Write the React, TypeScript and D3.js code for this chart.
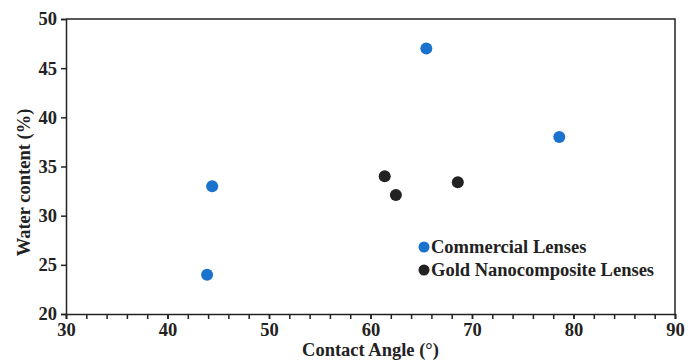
import React, { useEffect, useRef } from "react";
import * as d3 from "d3";

// Commercial lenses: contact angle (°) vs water content (%)
const commercialAngle = [43.9, 44.4, 65.5, 78.6];
const commercialWater = [24.0, 33.0, 47.0, 38.0];

// Gold nanocomposite lenses
const goldAngle = [61.4, 62.5, 68.6];
const goldWater = [34.0, 32.1, 33.4];

const xTicks = [30, 40, 50, 60, 70, 80, 90];
const yTicks = [20, 25, 30, 35, 40, 45, 50];

const seriesNames = ["Commercial Lenses", "Gold Nanocomposite Lenses"];
const seriesColors = ["#1a72cc", "#222222"];

const App = () => {
  const ref = useRef<SVGSVGElement>(null);

  useEffect(() => {
    const svg = d3.select(ref.current);
    svg.selectAll("*").remove();

    const margin = { top: 19, right: 24, bottom: 48, left: 66 };
    const width = 699 - margin.left - margin.right;
    const height = 362 - margin.top - margin.bottom;
    const font = "'Liberation Serif', 'Times New Roman', serif";
    const fs = 18.5;

    const g = svg
      .append("g")
      .attr("transform", `translate(${margin.left},${margin.top})`);

    const x = d3.scaleLinear().domain([30, 90]).range([0, width]);
    const y = d3.scaleLinear().domain([20, 50]).range([height, 0]);

    // frame (top and right)
    g.append("path")
      .attr("d", `M0,0H${width}V${height}`)
      .attr("fill", "none")
      .attr("stroke", "#222")
      .attr("stroke-width", 1.5);

    // minor x ticks
    g.append("g")
      .attr("transform", `translate(0,${height})`)
      .call(d3.axisBottom(x).tickValues(d3.range(30, 91, 2)).tickSize(5).tickFormat(() => ""))
      .call((a) => a.select(".domain").remove())
      .selectAll("line")
      .attr("stroke", "#222")
      .attr("stroke-width", 1.5);

    // X axis
    const xAxis = g
      .append("g")
      .attr("transform", `translate(0,${height})`)
      .call(d3.axisBottom(x).tickValues(xTicks).tickSize(5).tickPadding(4));
    xAxis.select(".domain").attr("stroke", "#222").attr("stroke-width", 1.5);
    xAxis.selectAll("line").attr("stroke", "#222").attr("stroke-width", 1.5);
    xAxis
      .selectAll("text")
      .attr("font-family", font)
      .attr("font-weight", "bold")
      .attr("font-size", fs)
      .attr("fill", "#222");

    // Y axis
    const yAxis = g
      .append("g")
      .call(d3.axisLeft(y).tickValues(yTicks).tickSize(5).tickPadding(4));
    yAxis.select(".domain").attr("stroke", "#222").attr("stroke-width", 1.5);
    yAxis.selectAll("line").attr("stroke", "#222").attr("stroke-width", 1.5);
    yAxis
      .selectAll("text")
      .attr("font-family", font)
      .attr("font-weight", "bold")
      .attr("font-size", fs)
      .attr("fill", "#222");

    // axis titles
    g.append("text")
      .attr("x", width / 2)
      .attr("y", height + 42)
      .attr("text-anchor", "middle")
      .attr("font-family", font)
      .attr("font-weight", "bold")
      .attr("font-size", fs)
      .attr("fill", "#222")
      .text("Contact Angle (°)");

    g.append("text")
      .attr("transform", "rotate(-90)")
      .attr("x", -height / 2 - 16)
      .attr("y", -36)
      .attr("text-anchor", "middle")
      .attr("font-family", font)
      .attr("font-weight", "bold")
      .attr("font-size", fs)
      .attr("fill", "#222")
      .text("Water content (%)");

    // points
    const series = [
      commercialAngle.map((a, i) => [a, commercialWater[i]]),
      goldAngle.map((a, i) => [a, goldWater[i]]),
    ];
    series.forEach((pts, si) => {
      g.append("g")
        .selectAll("circle")
        .data(pts)
        .enter()
        .append("circle")
        .attr("cx", (d) => x(d[0]))
        .attr("cy", (d) => y(d[1]))
        .attr("r", 6)
        .attr("fill", seriesColors[si]);
    });

    // legend
    const legend = g.append("g").attr("transform", `translate(${424 - margin.left},${247 - margin.top})`);
    seriesNames.forEach((name, i) => {
      legend
        .append("circle")
        .attr("cx", 0)
        .attr("cy", i * 23)
        .attr("r", 5.5)
        .attr("fill", seriesColors[i]);
      legend
        .append("text")
        .attr("x", 7)
        .attr("y", i * 23)
        .attr("dy", "0.35em")
        .attr("font-family", font)
        .attr("font-weight", "bold")
        .attr("font-size", fs)
        .attr("fill", "#222")
        .text(name);
    });
  }, []);

  return <svg ref={ref} width={699} height={362} style={{ position: "absolute", left: 0, top: 0 }} />;
};

export default App;
